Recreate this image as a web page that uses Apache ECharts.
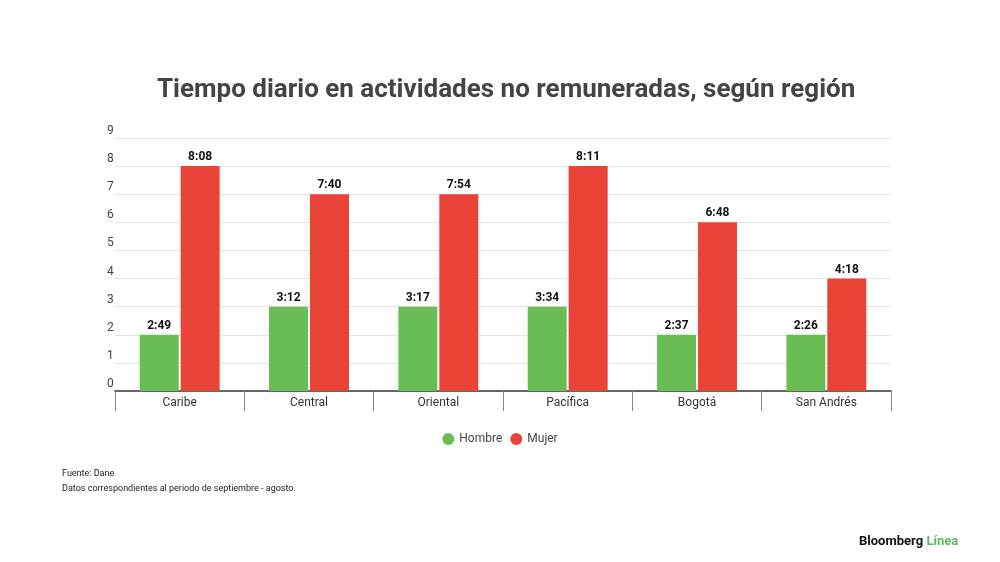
<!DOCTYPE html>
<html lang="es">
<head>
    <meta charset="utf-8">
    <title>Tiempo diario en actividades no remuneradas</title>
    <script src="https://cdn.jsdelivr.net/npm/echarts@6/dist/echarts.min.js"></script>
    <style>
        html, body { margin: 0; padding: 0; background: #fff; }
        #chart { width: 1000px; height: 562px; }
    </style>
</head>
<body>
    <div id="chart"></div>
    <script>
        // regiones y horas (las barras solo muestran la hora entera)
        var regiones = ['Caribe', 'Central', 'Oriental', 'Pacífica', 'Bogotá', 'San Andrés'];
        var hombre = [2, 3, 3, 3, 2, 2];
        var mujer = [8, 7, 7, 8, 6, 4];
        // etiquetas h:mm sobre cada barra
        var hombreTxt = ['2:49', '3:12', '3:17', '3:34', '2:37', '2:26'];
        var mujerTxt = ['8:08', '7:40', '7:54', '8:11', '6:48', '4:18'];

        var font = 'Roboto, "Noto Sans", sans-serif';

        var myChart = echarts.init(document.getElementById('chart'));
        myChart.setOption({
            backgroundColor: '#fff',
            animation: false,
            textStyle: { fontFamily: font },
            title: {
                text: 'Tiempo diario en actividades no remuneradas, según región',
                left: 152,
                top: 72,
                textStyle: { fontSize: 26, fontWeight: 'bold', color: '#444', fontFamily: font }
            },
            legend: {
                data: ['Hombre', 'Mujer'],
                left: 'center',
                top: 428,
                icon: 'circle',
                itemWidth: 12,
                itemHeight: 12,
                itemGap: 8,
                textStyle: { fontSize: 12, color: '#444' }
            },
            grid: { left: 115, right: 109, top: 138, bottom: 171 },
            xAxis: {
                type: 'category',
                data: regiones,
                axisLine: { lineStyle: { color: '#666', width: 2 } },
                axisTick: { show: true, length: 20, lineStyle: { color: '#888' } },
                axisLabel: { fontSize: 12, color: '#333', margin: 6 }
            },
            yAxis: {
                type: 'value',
                min: 0,
                max: 9,
                interval: 1,
                axisLine: { show: false },
                axisTick: { show: false },
                axisLabel: {
                    fontSize: 12,
                    color: '#444',
                    align: 'left',
                    verticalAlign: 'bottom',
                    margin: 8,
                    lineHeight: 14
                },
                splitLine: { lineStyle: { color: '#e4e4e4' } }
            },
            series: [
                {
                    name: 'Hombre',
                    type: 'bar',
                    data: hombre,
                    barWidth: 39,
                    barGap: '5%',
                    itemStyle: { color: '#68be52' },
                    label: {
                        show: true,
                        position: 'top',
                        distance: 3,
                        fontSize: 12,
                        fontWeight: 'bold',
                        color: '#111',
                        formatter: function (p) { return hombreTxt[p.dataIndex]; }
                    }
                },
                {
                    name: 'Mujer',
                    type: 'bar',
                    data: mujer,
                    barWidth: 39,
                    itemStyle: { color: '#ea4338' },
                    label: {
                        show: true,
                        position: 'top',
                        distance: 3,
                        fontSize: 12,
                        fontWeight: 'bold',
                        color: '#111',
                        formatter: function (p) { return mujerTxt[p.dataIndex]; }
                    }
                }
            ],
            graphic: [
                {
                    type: 'text',
                    left: 62,
                    top: 466,
                    style: {
                        text: 'Fuente: Dane\nDatos correspondientes al periodo de septiembre - agosto.',
                        font: '9px ' + font,
                        fill: '#222',
                        lineHeight: 15
                    }
                },
                {
                    type: 'text',
                    left: 859,
                    top: 535,
                    style: {
                        text: '{a|Bloomberg} {b|Línea}',
                        rich: {
                            a: { fontSize: 13, fontWeight: 'bold', fill: '#111', fontFamily: font },
                            b: { fontSize: 13, fontWeight: 'bold', fill: '#5cb85c', fontFamily: font }
                        }
                    }
                }
            ]
        });
    </script>
</body>
</html>
